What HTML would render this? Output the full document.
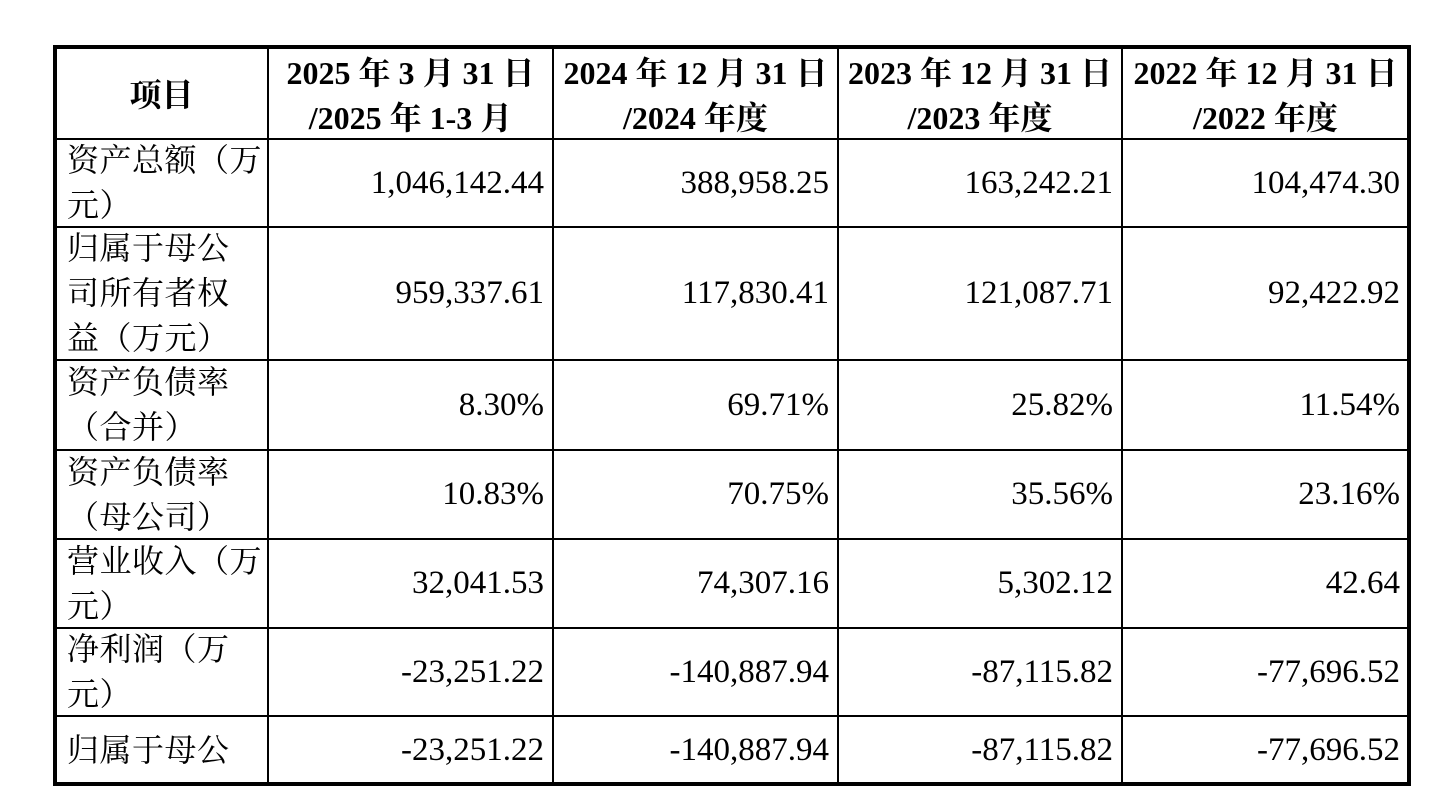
<!DOCTYPE html>
<html><head><meta charset="utf-8"><style>
body{margin:0;width:1444px;height:800px;background:#fff;position:relative;overflow:hidden;font-family:"Liberation Serif","Noto Serif CJK SC",serif;color:#000}
.h{position:absolute;background:#000}
.c{position:absolute;display:flex;align-items:center;font-size:31px;line-height:45px;box-sizing:border-box}
.hd{font-weight:bold;justify-content:center;text-align:center;font-size:32px;line-height:45px;padding-top:5px}
.lb{padding-left:12px;padding-right:4px;font-size:32px;letter-spacing:0.5px;line-height:45px}
.num{justify-content:flex-end;padding-right:9px;font-size:33px}
</style></head><body>
<div id="tbl"></div>
<script>
const colX=[55,268,553,838,1122,1409];
const rowY=[47,139,227,360,450,539,628,716,784];
const headers=["项目","2025 年 3 月 31 日<br>/2025 年 1-3 月","2024 年 12 月 31 日<br>/2024 年度","2023 年 12 月 31 日<br>/2023 年度","2022 年 12 月 31 日<br>/2022 年度"];
const labels=["资产总额（万<br>元）","归属于母公<br>司所有者权<br>益（万元）","资产负债率<br>（合并）","资产负债率<br>（母公司）","营业收入（万<br>元）","净利润（万<br>元）","归属于母公"];
const values=[
["1,046,142.44","388,958.25","163,242.21","104,474.30"],
["959,337.61","117,830.41","121,087.71","92,422.92"],
["8.30%","69.71%","25.82%","11.54%"],
["10.83%","70.75%","35.56%","23.16%"],
["32,041.53","74,307.16","5,302.12","42.64"],
["-23,251.22","-140,887.94","-87,115.82","-77,696.52"],
["-23,251.22","-140,887.94","-87,115.82","-77,696.52"]];
const t=document.getElementById('tbl');
function cell(x1,x2,y1,y2,html,cls,name){
 const d=document.createElement('div');
 d.className='c '+cls;
 d.style.left=x1+'px';d.style.top=y1+'px';d.style.width=(x2-x1)+'px';d.style.height=(y2-y1)+'px';
 d.innerHTML='<span>'+html+'</span>';
 
 
 t.appendChild(d);
}
headers.forEach((h,i)=>cell(colX[i],colX[i+1],rowY[0],rowY[1],h,'hd','header-cell'));
labels.forEach((l,r)=>{
 cell(colX[0],colX[1],rowY[r+1],rowY[r+2],l,'lb','row-label');
 values[r].forEach((v,c)=>cell(colX[c+1],colX[c+2],rowY[r+1],rowY[r+2],v,'num','value-cell'));
});
function line(x,y,w,h){
 const d=document.createElement('div');d.className='h';
 d.style.left=x+'px';d.style.top=y+'px';d.style.width=w+'px';d.style.height=h+'px';
 
 
 t.appendChild(d);
}
line(53,45,1358,4);line(53,782,1358,4);line(53,45,4,741);line(1407,45,4,741);
for(let i=1;i<colX.length-1;i++)line(colX[i]-1,47,2,737);
for(let i=1;i<rowY.length-1;i++)line(55,rowY[i]-1,1354,2);
</script>
</body></html>
